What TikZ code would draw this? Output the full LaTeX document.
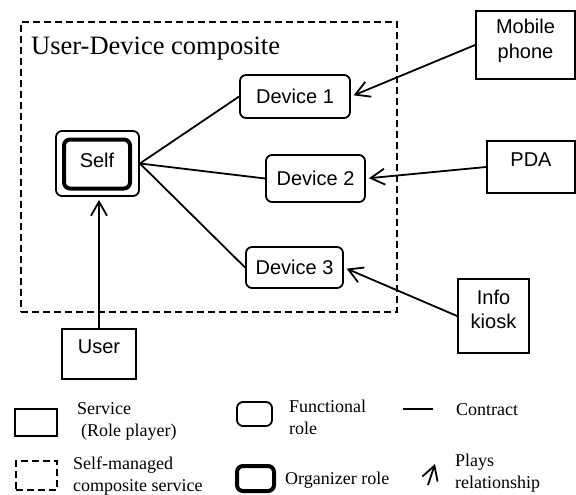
\documentclass[tikz,border=0pt]{standalone}
\usepackage{fontspec}
\setmainfont{Liberation Serif}
\setsansfont{Liberation Sans}
\usetikzlibrary{arrows.meta}
\tikzset{
	player/.style={draw,line width=1.8pt,inner sep=0pt,align=center,font=\sffamily\fontsize{20}{24.5}\selectfont},
	role/.style={draw,line width=1.8pt,rounded corners=6pt,inner sep=0pt,font=\sffamily\fontsize{20}{24}\selectfont},
	organizer/.style={role,line width=4pt},
	composite/.style={draw,line width=1.8pt,dash pattern=on 7pt off 4pt},
	contract/.style={line width=1.8pt},
	plays/.style={line width=1.8pt,-{Straight Barb[length=14pt,width=16pt]}},
	legend/.style={anchor=west,inner sep=0pt,align=left,font=\fontsize{18}{22}\selectfont}
}
\begin{document}
\begin{tikzpicture}[x=1pt,y=-1pt]
	\useasboundingbox (0,0) rectangle (576,495);
	% composite service
	\node[composite,minimum width=376pt,minimum height=290pt](comp) at (209,167){};
	\node[anchor=base west,inner sep=0pt,font=\fontsize{26.5}{30}\selectfont](title) at (31,55){User-Device composite};
	% roles
	\node[role,minimum width=83pt,minimum height=65pt](selfrole) at (97.5,163.5){};
	\node[organizer,minimum width=66pt,minimum height=49pt,text depth=8pt](self) at (97,164){Self};
	\node[role,minimum width=110pt,minimum height=43pt](dev1) at (295,96.5){Device 1};
	\node[role,minimum width=99pt,minimum height=47pt](dev2) at (315.5,178.5){Device 2};
	\node[role,minimum width=97pt,minimum height=41pt](dev3) at (294.5,267.5){Device 3};
	% players
	\node[player,minimum width=99pt,minimum height=68pt,text depth=12pt](mobile) at (525.5,45){Mobile\\phone};
	\node[player,minimum width=88pt,minimum height=52pt,text depth=14pt](pda) at (531,167){PDA};
	\node[player,minimum width=71pt,minimum height=74pt,text depth=13pt](kiosk) at (493.5,316){Info\\kiosk};
	\node[player,minimum width=74pt,minimum height=50pt,text depth=14pt](user) at (99,354){User};
	% contracts
	\draw[contract] (selfrole.east)--(dev1.west);
	\draw[contract] (selfrole.east)--(dev2.west);
	\draw[contract] (selfrole.east)--(dev3.west);
	% plays
	\draw[plays,shorten >=3pt] (user.north)--(user.north|-selfrole.south);
	\draw[plays,shorten >=3pt] (mobile.west)--(dev1.east);
	\draw[plays,shorten >=3pt] (pda.west)--(dev2.east);
	\draw[plays,shorten >=3pt] (kiosk.west)--(dev3.east);
	% legend
	\node[player,minimum width=42pt,minimum height=27pt](legplayer) at (36,422.5){};
	\node[legend](legplayertext) at (77,421){Service\\\hspace*{4pt}(Role player)};
	\node[role,minimum width=35pt,minimum height=24pt](legrole) at (254.5,414){};
	\node[legend](legroletext) at (289,417){Functional\\role};
	\coordinate (c1) at (403,409);
	\coordinate (c2) at (433,409);
	\draw[contract] (c1)--(c2);
	\node[legend](legcontracttext) at (456,410){Contract};
	\node[composite,minimum width=41pt,minimum height=29pt](legcomp) at (36.5,475.5){};
	\node[legend](legcomptext) at (73,476){Self-managed\\composite service};
	\node[organizer,minimum width=37pt,minimum height=25pt](legorg) at (255.5,478.5){};
	\node[legend](legorgtext) at (285,480){Organizer role};
	\coordinate (p1) at (428,485);
	\coordinate (p2) at (435,464);
	\draw[plays] (p1)--(p2);
	\node[legend](legplaystext) at (455,473){Plays\\relationship};
\end{tikzpicture}
\end{document}
